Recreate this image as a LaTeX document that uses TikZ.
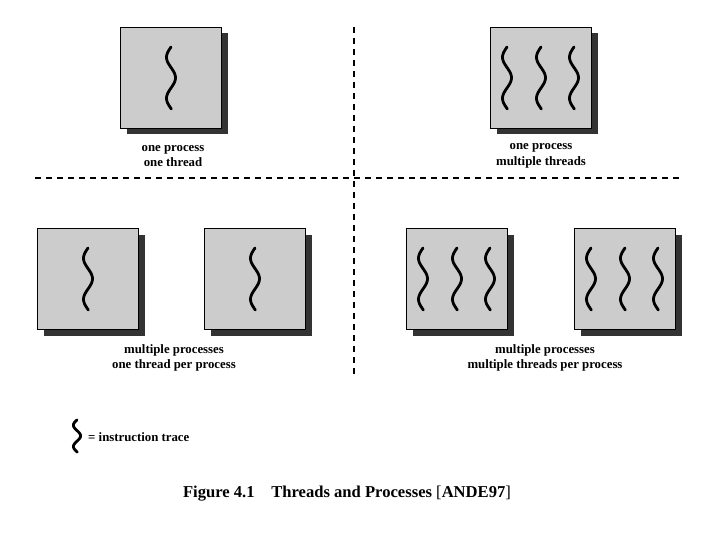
\documentclass[tikz,border=0pt]{standalone}
\usepackage{fontspec}
\setmainfont{Liberation Serif}
\usetikzlibrary{shadows}

\tikzset{
    proc/.style={draw=black,line width=1.4pt,fill=black!20,minimum size=101pt,inner sep=0pt,
        drop shadow={shadow xshift=6pt,shadow yshift=-6pt,fill=black!80,opacity=1}},
    divider/.style={line width=1.8pt,dash pattern=on 6pt off 5pt},
    caption/.style={align=center,font=\fontsize{12.8}{15.5}\selectfont\bfseries},
    trace/.pic={\draw[line width=2.8pt,line cap=round] plot[domain=-31:31,smooth,samples=40]
        ({-4.5*sin((\x+31)/41*360)},\x);}
}

\begin{document}
\begin{tikzpicture}[x=1pt,y=-1pt]
        \useasboundingbox (0,0) rectangle (720,540);

        \coordinate (A) at (171,78);
        \coordinate (B) at (541,78);
        \coordinate (C) at (88,279);
        \coordinate (D) at (255,279);
        \coordinate (E) at (457,279);
        \coordinate (F) at (625,279);

        \draw[divider] (354,27) -- (354,376);
        \draw[divider] (35,178) -- (681,178);

        \node[proc] (pa) at (A) {};
        \node[proc] (pb) at (B) {};
        \node[proc] (pc) at (C) {};
        \node[proc] (pd) at (D) {};
        \node[proc] (pe) at (E) {};
        \node[proc] (pf) at (F) {};

        \pic at (A) {trace};
        \pic at (C) {trace};
        \pic at (D) {trace};
        \foreach \p in {B,E,F} {
            \pic at ([xshift=-34pt]\p) {trace};
            \pic at (\p) {trace};
            \pic at ([xshift=33pt]\p) {trace};
        }

        \node[caption] (la) at (173,156) {one process\\one thread};
        \node[caption] (lb) at (541,156) {one process\\multiple threads};
        \node[caption] (lc) at (174,358) {multiple processes\\one thread per process};
        \node[caption] (ld) at (545,358) {multiple processes\\multiple threads per process};

        \pic[xscale=0.8,yscale=0.52] at (77,436) {trace};
        \node[caption,anchor=west,inner sep=0pt] (key) at (88,437) {= instruction trace};

        \node[font=\fontsize{16.6}{18}\selectfont] (fig) at (347,494)
            {\textbf{Figure 4.1\quad Threads and Processes} [\textbf{ANDE97}]};
    \end{tikzpicture}
\end{document}
